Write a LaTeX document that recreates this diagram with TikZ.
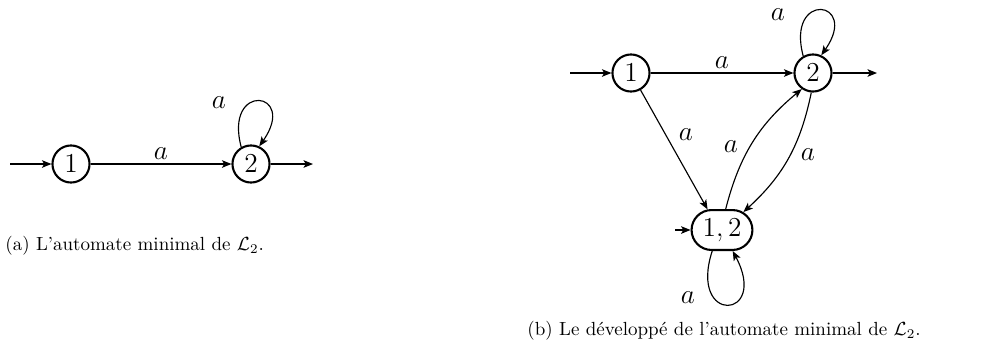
\documentclass[tikz,border=0pt]{standalone}
\usetikzlibrary{arrows.meta,shapes.misc}
\begin{document}
\begin{tikzpicture}[x=0.526pt,y=-0.526pt,
  state/.style={circle,draw,line width=1.1pt,minimum size=19.5pt,inner sep=0pt,font=\Large},
  mstate/.style={rounded rectangle,draw,line width=1.1pt,minimum width=34pt,minimum height=21pt,inner sep=1pt,font=\Large},
  trans/.style={line width=0.6pt,-{Stealth[length=5pt,width=4pt,inset=1.2pt]}},
  lbl/.style={font=\Large,inner sep=1pt}]
\useasboundingbox (0,0) rectangle (986,356);
% (a)
\node[state] (a1) at (71,164) {$1$};
\node[state] (a2) at (251,164) {$2$};
\coordinate (ain) at (10,164);
\coordinate (aout) at (313,164);
\draw[trans] (ain) -- (a1);
\draw[trans] (a2) -- (aout);
\draw[trans] (a1) -- node[lbl,above=1pt] {$a$} (a2);
\draw[trans] (a2.120) .. controls +(-105:68) and +(-55:68) .. (a2.65);
\node[lbl] (al) at (219,103) {$a$};
\node[anchor=west,inner sep=0pt] (capa) at (5,246) {(a) L'automate minimal de $\mathcal{L}_2$.};
% (b)
\node[state] (b1) at (631,73) {$1$};
\node[state] (b2) at (813,73) {$2$};
\node[mstate] (b12) at (722,230) {$1,2$};
\coordinate (bin) at (570,73);
\coordinate (bout) at (877,73);
\coordinate (bin2) at (675,230);
\draw[trans] (bin) -- (b1);
\draw[trans] (b2) -- (bout);
\draw[trans] (bin2) -- (b12);
\draw[trans] (b1) -- node[lbl,above=1pt] {$a$} (b2);
\draw[trans] (b2.120) .. controls +(-105:68) and +(-55:68) .. (b2.65);
\node[lbl] (bl) at (778,15) {$a$};
\draw[trans] (b1) -- (b12.125);
\node[lbl] (l1) at (686,135) {$a$};
\draw[trans] (b12.80) to[bend left=18] (b2.235);
\node[lbl] (l2) at (731,147) {$a$};
\draw[trans] (b2.265) to[bend left=18] (b12.40);
\node[lbl] (l3) at (808,155) {$a$};
\draw[trans] (b12.245) .. controls +(108:78) and +(62:78) .. (b12.297);
\node[lbl] (l4) at (688,298) {$a$};
\node[inner sep=0pt] (capb) at (724,331) {(b) Le d\'evelopp\'e de l'automate minimal de $\mathcal{L}_2$.};
\end{tikzpicture}
\end{document}
